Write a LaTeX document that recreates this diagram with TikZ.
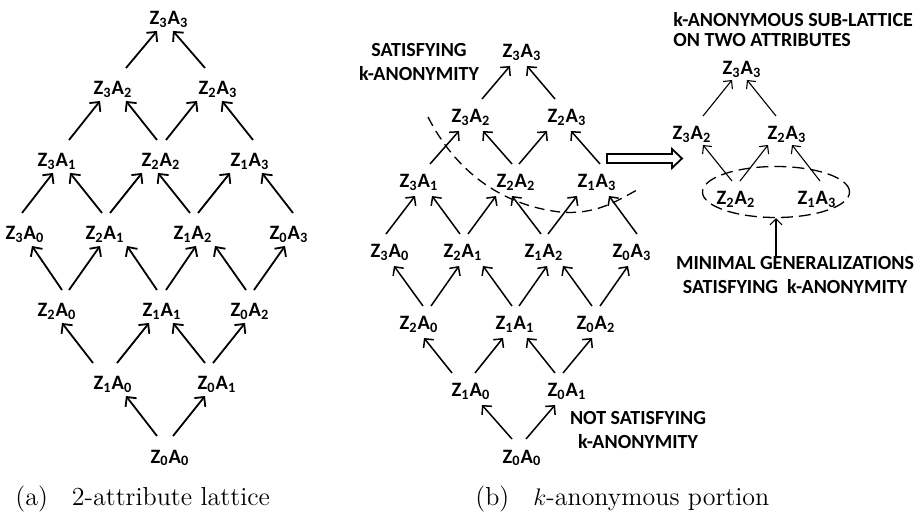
\documentclass[tikz,border=0pt]{standalone}
\usepackage{fontspec}
\newfontfamily\carl{Carlito}
\usetikzlibrary{arrows.meta,shapes.geometric}
\newcommand\ZA[2]{Z\textsubscript{#1}A\textsubscript{#2}}
\newcommand\lnk[5]{\draw[#1] ([shift={(#3,\dya)}]#2.center) -- ([shift={(#5,\dyb)}]#4.center);}
\begin{document}
\begin{tikzpicture}[x=0.5pt,y=-0.5pt,
  lnode/.style={font=\carl\bfseries\fontsize{10.2}{12}\selectfont, inner sep=0pt, text height=7pt, text depth=2pt},
  lab/.style={font=\carl\bfseries\fontsize{10}{12}\selectfont, inner sep=0pt, align=center},
  labt/.style={font=\carl\bfseries\fontsize{10}{10}\selectfont, inner sep=0pt, align=left},
  arrL/.style={line width=0.9pt,-{Straight Barb[length=3.5pt,width=7pt]}},
  arrR/.style={line width=0.75pt,-{Straight Barb[length=3.2pt,width=6.5pt]}},
  arrS/.style={line width=0.55pt,-{Straight Barb[length=3pt,width=6pt]}},
  dsh/.style={line width=0.65pt, dash pattern=on 5pt off 3pt},
  capt/.style={anchor=base west, inner sep=0pt, font=\fontsize{13}{15}\selectfont}]
\useasboundingbox (0,0) rectangle (914,517);

% ---------- (a) full lattice ----------
\node[lnode] (L33) at (169,20) {\ZA{3}{3}};
\node[lnode] (L32) at (113,90) {\ZA{3}{2}};
\node[lnode] (L23) at (218,90) {\ZA{2}{3}};
\node[lnode] (L31) at (57,162) {\ZA{3}{1}};
\node[lnode] (L22) at (161,162) {\ZA{2}{2}};
\node[lnode] (L13) at (250,162) {\ZA{1}{3}};
\node[lnode] (L30) at (25,235) {\ZA{3}{0}};
\node[lnode] (L21) at (105,235) {\ZA{2}{1}};
\node[lnode] (L12) at (193,235) {\ZA{1}{2}};
\node[lnode] (L03) at (289,235) {\ZA{0}{3}};
\node[lnode] (L20) at (57,312) {\ZA{2}{0}};
\node[lnode] (L11) at (162,312) {\ZA{1}{1}};
\node[lnode] (L02) at (250,312) {\ZA{0}{2}};
\node[lnode] (L10) at (113,385) {\ZA{1}{0}};
\node[lnode] (L01) at (217,385) {\ZA{0}{1}};
\node[lnode] (L00) at (170,458) {\ZA{0}{0}};

\def\dya{-22}\def\dyb{11}
\lnk{arrL}{L32}{13}{L33}{-12}
\lnk{arrL}{L23}{-13}{L33}{4}
\lnk{arrL}{L31}{12}{L32}{-13}
\lnk{arrL}{L22}{-4}{L32}{13}
\lnk{arrL}{L22}{5}{L23}{-21}
\lnk{arrL}{L13}{3}{L23}{4}
\lnk{arrL}{L30}{-3}{L31}{-4}
\lnk{arrL}{L21}{-3}{L31}{13}
\lnk{arrL}{L21}{5}{L22}{-19}
\lnk{arrL}{L12}{-3}{L22}{-3}
\lnk{arrL}{L12}{5}{L13}{-20}
\lnk{arrL}{L03}{4}{L13}{12}
\lnk{arrL}{L20}{5}{L30}{7}
\lnk{arrL}{L20}{12}{L21}{-5}
\lnk{arrL}{L11}{-5}{L21}{22}
\lnk{arrL}{L11}{4}{L12}{3}
\lnk{arrL}{L02}{-4}{L12}{22}
\lnk{arrL}{L02}{4}{L03}{-4}
\lnk{arrL}{L10}{-20}{L20}{5}
\lnk{arrL}{L10}{4}{L11}{-13}
\lnk{arrL}{L01}{-12}{L11}{11}
\lnk{arrL}{L01}{-4}{L02}{-5}
\lnk{arrL}{L00}{-13}{L10}{13}
\lnk{arrL}{L00}{3}{L01}{-12}

\node[capt] (capa) at (15,505) {(a)\hspace{12pt}2-attribute lattice};

% ---------- (b) k-anonymous portion ----------
\node[lnode] (R33) at (522,53) {\ZA{3}{3}};
\node[lnode] (R32) at (471,118) {\ZA{3}{2}};
\node[lnode] (R23) at (567,118) {\ZA{2}{3}};
\node[lnode] (R31) at (419,183) {\ZA{3}{1}};
\node[lnode] (R22) at (516,183) {\ZA{2}{2}};
\node[lnode] (R13) at (597,183) {\ZA{1}{3}};
\node[lnode] (R30) at (390,253) {\ZA{3}{0}};
\node[lnode] (R21) at (463,253) {\ZA{2}{1}};
\node[lnode] (R12) at (544,253) {\ZA{1}{2}};
\node[lnode] (R03) at (632,253) {\ZA{0}{3}};
\node[lnode] (R20) at (419,325) {\ZA{2}{0}};
\node[lnode] (R11) at (515,325) {\ZA{1}{1}};
\node[lnode] (R02) at (596,325) {\ZA{0}{2}};
\node[lnode] (R10) at (471,392) {\ZA{1}{0}};
\node[lnode] (R01) at (567,392) {\ZA{0}{1}};
\node[lnode] (R00) at (522,458) {\ZA{0}{0}};

\def\dya{-19}\def\dyb{13}
\lnk{arrR}{R32}{11}{R33}{-12}
\lnk{arrR}{R23}{-12}{R33}{5}
\lnk{arrR}{R31}{11}{R32}{-12}
\lnk{arrR}{R22}{-4}{R32}{12}
\lnk{arrR}{R22}{3}{R23}{-20}
\lnk{arrR}{R13}{3}{R23}{4}
\lnk{arrR}{R30}{-4}{R31}{-4}
\lnk{arrR}{R21}{-3}{R31}{13}
\lnk{arrR}{R21}{5}{R22}{-20}
\lnk{arrR}{R12}{-3}{R22}{-4}
\lnk{arrR}{R12}{4}{R13}{-20}
\lnk{arrR}{R03}{5}{R13}{12}
\lnk{arrR}{R20}{4}{R30}{4}
\lnk{arrR}{R20}{12}{R21}{-4}
\lnk{arrR}{R11}{-3}{R21}{20}
\lnk{arrR}{R11}{4}{R12}{3}
\lnk{arrR}{R02}{-4}{R12}{19}
\lnk{arrR}{R02}{4}{R03}{-4}
\lnk{arrR}{R10}{-19}{R20}{5}
\lnk{arrR}{R10}{4}{R11}{-12}
\lnk{arrR}{R01}{-12}{R11}{12}
\lnk{arrR}{R01}{-4}{R02}{-4}
\lnk{arrR}{R00}{-10}{R10}{11}
\lnk{arrR}{R00}{4}{R01}{-12}

\draw[dsh] (428,117) .. controls (455,170) and (500,205) .. (560,212)
                     .. controls (595,215) and (615,202) .. (637,190);

\node[lab] (sat) at (419,62) {\fontsize{10}{10.5}\selectfont SATISFYING\\k-ANONYMITY};
\node[lab] (notsat) at (638,430) {NOT SATISFYING\\k-ANONYMITY};

\draw[line width=0.9pt, fill=white] (607,154) -- (672,154) -- (672,149) -- (682,158.5)
  -- (672,168) -- (672,163) -- (607,163) -- cycle;

% ---------- sub-lattice ----------
\node[labt, anchor=west] (title) at (673,30) {k-ANONYMOUS SUB-LATTICE\\ON TWO ATTRIBUTES};
\node[lnode] (S33) at (742,70) {\ZA{3}{3}};
\node[lnode] (S32) at (692,135) {\ZA{3}{2}};
\node[lnode] (S23) at (787,135) {\ZA{2}{3}};
\node[lnode] (S22) at (736,200) {\ZA{2}{2}};
\node[lnode] (S13) at (817,200) {\ZA{1}{3}};

\def\dya{-19}\def\dyb{10}
\lnk{arrS}{S32}{11}{S33}{-10}
\lnk{arrS}{S23}{-11}{S33}{5}
\lnk{arrS}{S22}{-4}{S32}{11}
\lnk{arrS}{S22}{4}{S23}{-19}
\lnk{arrS}{S13}{3}{S23}{5}

\node[ellipse, draw, line width=0.65pt, dash pattern=on 6pt off 3pt, inner sep=0pt,
      minimum width=73.5pt, minimum height=25.5pt] (ell) at (776,192) {};
\node[lab] (min) at (795,275) {MINIMAL GENERALIZATIONS\\SATISFYING\ \ k-ANONYMITY};
\draw[arrS] (ell.south |- min.north) -- (ell.south);

\node[capt] (capb) at (475,505) {(b)\hspace{12pt}$k$-anonymous portion};
\end{tikzpicture}
\end{document}
